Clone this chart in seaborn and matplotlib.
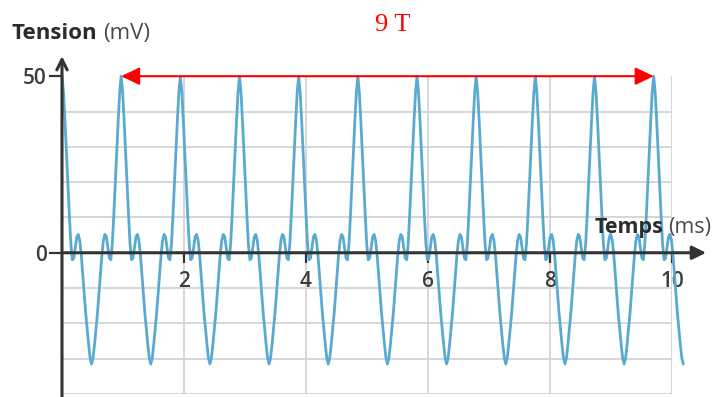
import numpy as np
import pandas as pd
import matplotlib
matplotlib.use("Agg")
import matplotlib.pyplot as plt
import seaborn as sns

# one half period of the signal (peak -> trough), read every 1/40 period
half_wave = [50, 45.5, 37.5, 28.5, 19.5, 10.5, 2.5, -2, -1.5, 1.5, 4.5, 5.2,
             3.5, -0.5, -6, -11.5, -17, -21.5, -26, -29.8, -31.5]
period_ms = 0.97
n_periods = 10
x_ticks = [2, 4, 6, 8, 10]
y_ticks = [0, 50]
grid_mv = [-40, -30, -20, -10, 0, 10, 20, 30, 40, 50]

one_period = half_wave + half_wave[-2:0:-1]
wave = one_period * n_periods + half_wave
t = np.arange(len(wave)) * period_ms / 40
df = pd.DataFrame({"Temps": t, "Tension": wave})

sns.set_style("white")
plt.rcParams["font.family"] = ["Open Sans", "DejaVu Sans"]

fig = plt.figure(figsize=(7.18, 3.97), dpi=100)
ax = fig.add_axes([62 / 718, 3 / 397, 610 / 718, (394 - 76.2) / 397])
ax.set_xlim(0, 10)
ax.set_ylim(-40, 50)

for s in ax.spines.values():
    s.set_visible(False)
ax.spines["bottom"].set_position(("data", 0))
ax.spines["left"].set_position(("data", 0))

ax.set_xticks(x_ticks)
ax.set_xticklabels([str(v) for v in x_ticks])
ax.set_yticks(y_ticks)
ax.set_yticklabels([str(v) for v in y_ticks])
ax.set_yticks(grid_mv, minor=True)
ax.tick_params(axis="x", bottom=True, direction="out", length=7, width=1.6,
               color="#333333", pad=6, labelsize=15, labelcolor="#3c3c3c")
ax.tick_params(axis="y", which="major", left=True, direction="out", length=9.5,
               width=1.6, color="#333333", pad=1.5, labelsize=15,
               labelcolor="#3c3c3c")
ax.tick_params(axis="y", which="minor", left=False, length=0)
for lbl in ax.get_xticklabels() + ax.get_yticklabels():
    lbl.set_fontweight("semibold")

ax.grid(axis="x", which="major", color="#d6d6d6", lw=1.4)
ax.grid(axis="y", which="minor", color="#d6d6d6", lw=1.4)
ax.set_axisbelow(True)

sns.lineplot(data=df, x="Temps", y="Tension", ax=ax, color="#5aaad0", lw=2,
             sort=False, estimator=None, clip_on=False, zorder=2)
ax.set_xlabel("")
ax.set_ylabel("")

# axes with arrows
ax.annotate("", xy=(0, 55.7), xytext=(0, -42), annotation_clip=False,
            arrowprops=dict(arrowstyle="->,head_length=0.5,head_width=0.25",
                            color="#333333", lw=2.2, shrinkA=0, shrinkB=0,
                            mutation_scale=15), zorder=4)
ax.annotate("", xy=(10.56, 0), xytext=(0, 0), annotation_clip=False,
            arrowprops=dict(arrowstyle="-|>,head_length=0.55,head_width=0.27",
                            color="#333333", lw=2.2, shrinkA=0, shrinkB=0,
                            mutation_scale=15), zorder=4)

# 9 T arrow between first and tenth peak
peak = max(wave)
ax.annotate("", xy=(n_periods * period_ms, peak),
            xytext=(period_ms, peak), annotation_clip=False,
            arrowprops=dict(arrowstyle="<|-|>,head_length=0.75,head_width=0.36",
                            color="red", lw=1.5, shrinkA=0, shrinkB=0,
                            mutation_scale=15), zorder=5)
fig.text(393 / 718, 1 - 25 / 397, "9 T", color="red", fontsize=19,
         family="Liberation Serif", ha="center", va="center")

fig.text(12 / 718, 1 - 39 / 397, "Tension", fontsize=16, fontweight="bold",
         color="#2b2b2b", va="baseline")
fig.text(103 / 718, 1 - 39 / 397, "(mV)", fontsize=16, color="#4a4a4a",
         va="baseline")
fig.text(595 / 718, 1 - 233 / 397, "Temps", fontsize=15.5, fontweight="bold",
         color="#2b2b2b", va="baseline")
fig.text(668 / 718, 1 - 233 / 397, "(ms)", fontsize=15.5, color="#4a4a4a",
         va="baseline")

fig.savefig("out.png", dpi=100)
